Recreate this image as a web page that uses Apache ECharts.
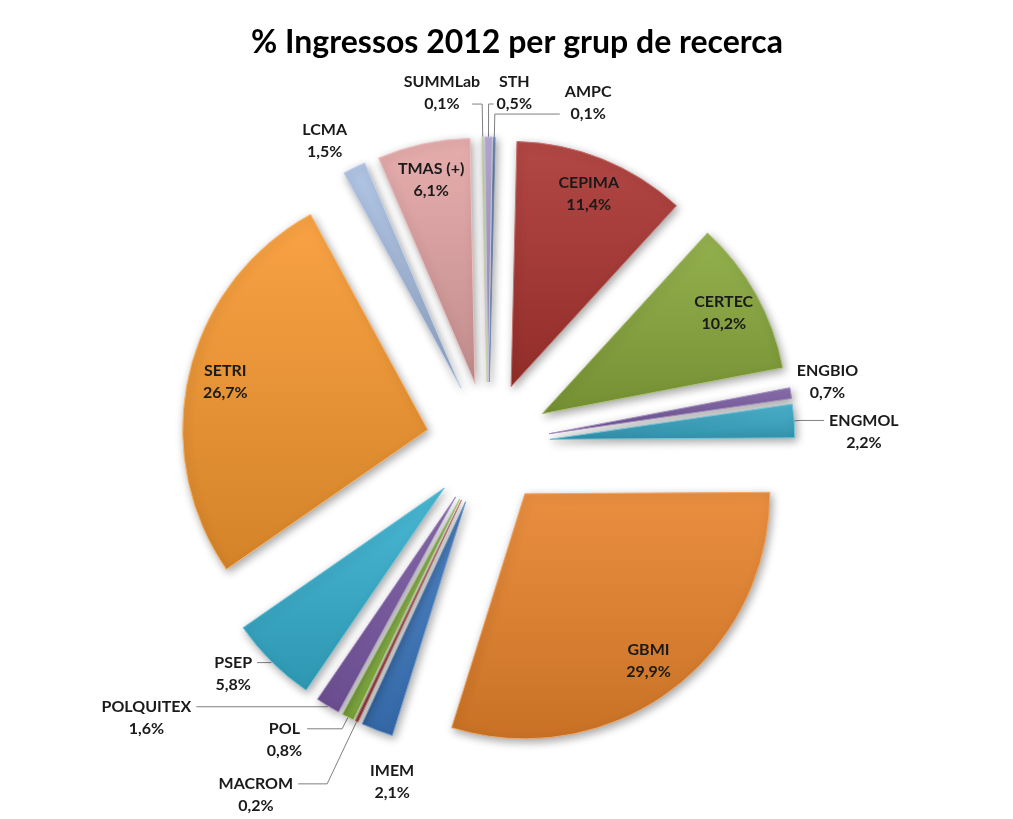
<!DOCTYPE html>
<html>
<head>
<meta charset="utf-8">
<script src="https://cdn.jsdelivr.net/npm/echarts@6/dist/echarts.min.js"></script>
<style>
  html, body { margin: 0; padding: 0; background: #fff; }
  #chart { width: 1013px; height: 819px; }
</style>
</head>
<body>
<div id="chart"></div>
<script>
// data, clockwise from 12 o'clock
const groups = ['AMPC', 'CEPIMA', 'CERTEC', 'ENGBIO', 'ENGMOL', 'GBMI', 'IMEM', 'MACROM',
  'POL', 'POLQUITEX', 'PSEP', 'SETRI', 'LCMA', 'TMAS (+)', 'SUMMLab', 'STH'];
const shares = [0.1, 11.4, 10.2, 0.7, 2.2, 29.9, 2.1, 0.2, 0.8, 1.6, 5.8, 26.7, 1.5, 6.1, 0.1, 0.5];
const colors = ['#4f81bd', '#aa3430', '#88a83b', '#7e5fa6', '#3aaac8', '#e8832b', '#3d78c0', '#c0504d',
  '#8cbb45', '#7b5aa6', '#36b0cf', '#f7982f', '#a8bfe2', '#e3a4a4', '#c3d69b', '#b0a3d0'];
const insideLabels = ['CEPIMA', 'CERTEC', 'GBMI', 'SETRI', 'TMAS (+)'];

// outer label look: [length, length2, distance, line the leader points at (0 mid, 1 first, 2 second), show line]
const outerLabel = {
  AMPC: [23, 65, 5, 2, true],
  ENGBIO: [67, 1, -61, 0, false],
  ENGMOL: [6, 24, 5, 1, true],
  IMEM: [55, 1, -58, 0, false],
  MACROM: [69, 29, 5, 1, true],
  POL: [13, 35, 5, 1, true],
  POLQUITEX: [1, 131, 5, 1, true],
  PSEP: [1, 14, 5, 1, true],
  LCMA: [30, 1, -7, 0, false],
  SUMMLab: [33, 10, -8, 2, true],
  STH: [33, 5, 3, 2, true]
};

const FONT = 'Lato, "Open Sans", sans-serif';
const CENTER = [488, 444];
const RADIUS = 245;
const OFFSET = 62;

function shade(hex, f) {
  const n = parseInt(hex.slice(1), 16);
  let r = n >> 16, g = (n >> 8) & 255, b = n & 255;
  const t = f < 0 ? 0 : 255, p = Math.abs(f);
  r = Math.round((t - r) * p + r);
  g = Math.round((t - g) * p + g);
  b = Math.round((t - b) * p + b);
  return 'rgb(' + r + ',' + g + ',' + b + ')';
}

function fill(hex) {
  return new echarts.graphic.LinearGradient(0, 0, 0, 1, [
    { offset: 0, color: shade(hex, 0.1) },
    { offset: 1, color: shade(hex, -0.14) }
  ]);
}

const fmt = (p) => '{t|' + p.name + '}\n{t|' + p.value.toFixed(1).replace('.', ',') + '%}';
const rich = { t: { align: 'center', fontFamily: FONT, fontWeight: 'bold', fontSize: 16, lineHeight: 22, color: '#1a1a1a' } };

const sliceData = groups.map((name, i) => {
  const o = outerLabel[name];
  const item = {
    name,
    value: shares[i],
    selected: true,
    itemStyle: { color: fill(colors[i]), borderColor: shade(colors[i], 0.3) }
  };
  if (o) {
    item.label = {
      show: true,
      position: 'outside',
      distanceToLabelLine: o[2],
      padding: o[3] === 1 ? [22, 0, 0, 0] : (o[3] === 2 ? [0, 0, 22, 0] : 0)
    };
    item.labelLine = { show: o[4], length: o[0], length2: o[1] };
  } else {
    item.label = { show: false };
    item.labelLine = { show: false };
  }
  return item;
});

const labelData = groups.map((name, i) => ({
  name,
  value: shares[i],
  selected: true,
  label: { show: insideLabels.includes(name) }
}));

const chart = echarts.init(document.getElementById('chart'));
chart.setOption({
  animation: false,
  backgroundColor: '#fff',
  title: {
    text: '% Ingressos 2012 per grup de recerca',
    left: 517,
    textAlign: 'center',
    top: 27,
    padding: 0,
    textStyle: { fontFamily: FONT, fontWeight: 'bold', fontSize: 32, color: '#000' }
  },
  series: [
    {
      type: 'pie',
      center: CENTER,
      radius: RADIUS,
      startAngle: 89,
      selectedMode: 'multiple',
      selectedOffset: OFFSET,
      avoidLabelOverlap: false,
      emphasis: { disabled: true },
      itemStyle: {
        borderWidth: 1,
        shadowBlur: 8,
        shadowColor: 'rgba(0,0,0,0.35)',
        shadowOffsetX: 2,
        shadowOffsetY: 3
      },
      label: { formatter: fmt, rich },
      labelLine: { smooth: false, lineStyle: { color: '#7f7f7f', width: 1 } },
      data: sliceData
    },
    {
      // ring used only to place the labels that sit inside the big slices
      type: 'pie',
      center: CENTER,
      radius: [165, RADIUS],
      startAngle: 89,
      selectedMode: 'multiple',
      selectedOffset: OFFSET,
      silent: true,
      avoidLabelOverlap: false,
      emphasis: { disabled: true },
      itemStyle: { color: 'rgba(0,0,0,0)' },
      label: { position: 'inside', formatter: fmt, rich },
      labelLine: { show: false },
      data: labelData
    }
  ]
});
</script>
</body>
</html>
